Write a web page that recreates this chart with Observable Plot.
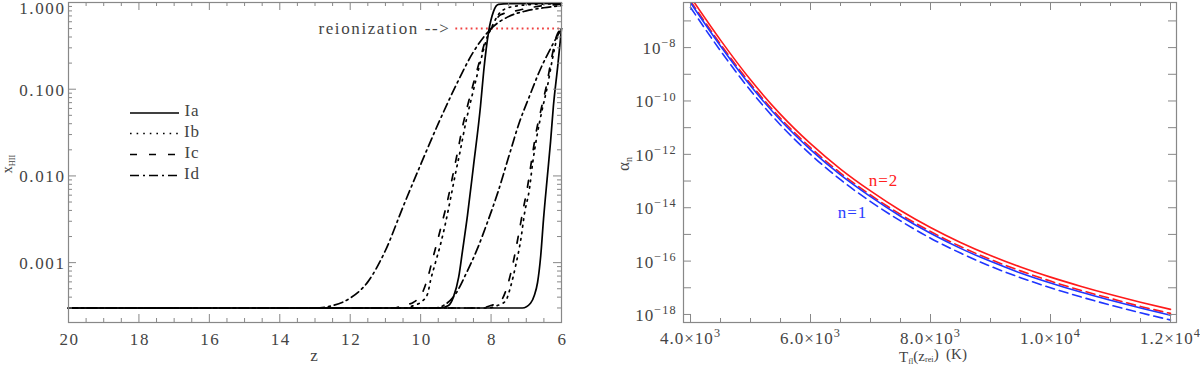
<!DOCTYPE html>
<html><head><meta charset="utf-8">
<script src="https://cdn.jsdelivr.net/npm/d3@7"></script>
<script src="https://cdn.jsdelivr.net/npm/@observablehq/plot@0.6"></script>
<style>
body{margin:0;background:#fff;}
#wrap{display:flex;width:1200px;height:367px;overflow:hidden;}
#wrap svg{flex:none;}
</style></head><body><div id="wrap"></div>
<script>
// ---------------- Left panel data: x_HII vs z ----------------
const zIaA = [20, 9.45, 9.21, 9.07, 8.92, 8.81, 8.67, 8.50, 8.30, 8.21, 8.07, 7.93, 7.79, 7.50, 6.0];
const xIaA = [3.0e-4, 3.0e-4, 3.2e-4, 4.0e-4, 6.8e-4, 1.38e-3, 3.5e-3, 1.3e-2, 6.4e-2, 0.16, 0.46, 0.79, 0.95, 0.97, 0.975];
const zIbA = [20, 10.45, 10.20, 9.95, 9.80, 9.72, 9.58, 9.43, 9.29, 9.15, 9.01, 8.87, 8.72, 8.58, 8.41, 8.24, 8.10, 8.01, 7.81, 7.59, 7.36, 7.0, 6.5, 6.0];
const xIbA = [3.0e-4, 3.0e-4, 3.2e-4, 3.6e-4, 4.4e-4, 6.2e-4, 1.0e-3, 1.66e-3, 2.9e-3, 5.5e-3, 1.07e-2, 2.0e-2, 4.1e-2, 7.2e-2, 0.138, 0.26, 0.41, 0.49, 0.71, 0.85, 0.90, 0.94, 0.96, 0.97];
const zIcA = [20, 10.75, 10.51, 10.20, 9.92, 9.78, 9.66, 9.52, 9.38, 9.24, 9.09, 8.95, 8.81, 8.67, 8.50, 8.30, 8.13, 8.01, 7.73, 7.30, 6.96, 6.5, 6.0];
const xIcA = [3.0e-4, 3.0e-4, 3.2e-4, 3.5e-4, 4.8e-4, 7.1e-4, 1.1e-3, 1.8e-3, 3.0e-3, 5.1e-3, 1.0e-2, 1.9e-2, 3.7e-2, 6.4e-2, 0.117, 0.23, 0.40, 0.49, 0.72, 0.80, 0.86, 0.92, 0.95];
const zIdA = [20, 13.0, 12.5, 12.0, 11.5, 11.0, 10.5, 10.0, 9.5, 9.0, 8.5, 8.0, 7.5, 7.0, 6.5, 6.0];
const xIdA = [3.0e-4, 3.0e-4, 3.2e-4, 3.9e-4, 6.0e-4, 1.38e-3, 4.4e-3, 1.35e-2, 4.0e-2, 0.11, 0.27, 0.50, 0.69, 0.80, 0.87, 0.92];

const zIaB = [20, 7.11, 6.88, 6.77, 6.68, 6.59, 6.51, 6.40, 6.31, 6.23, 6.11, 6.0];
const xIaB = [3.0e-4, 3.0e-4, 3.4e-4, 4.2e-4, 5.9e-4, 1.2e-3, 3.2e-3, 1.0e-2, 2.5e-2, 6.4e-2, 0.18, 0.50];
const zIbB = [20, 8.10, 7.82, 7.59, 7.45, 7.30, 7.16, 7.05, 6.91, 6.82, 6.71, 6.57, 6.40, 6.26, 6.11, 6.0];
const xIbB = [3.0e-4, 3.0e-4, 3.2e-4, 3.6e-4, 5.2e-4, 9.3e-4, 1.8e-3, 3.7e-3, 7.1e-3, 1.4e-2, 2.7e-2, 5.3e-2, 0.108, 0.22, 0.41, 0.49];
const zIcB = [20, 8.30, 8.01, 7.73, 7.53, 7.39, 7.25, 7.11, 6.96, 6.85, 6.74, 6.59, 6.42, 6.28, 6.14, 6.0];
const xIcB = [3.0e-4, 3.0e-4, 3.2e-4, 3.6e-4, 5.5e-4, 9.3e-4, 1.8e-3, 3.7e-3, 7.7e-3, 1.5e-2, 2.9e-2, 5.6e-2, 0.114, 0.23, 0.41, 0.50];
const zIdB = [20, 9.6, 9.3, 9.0, 8.7, 8.4, 8.1, 7.8, 7.5, 7.2, 6.9, 6.6, 6.3, 6.0];
const xIdB = [3.0e-4, 3.0e-4, 3.3e-4, 4.4e-4, 7.6e-4, 1.41e-3, 2.95e-3, 6.6e-3, 1.66e-2, 4.1e-2, 8.5e-2, 0.17, 0.30, 0.50];

const legendNames = ["Ia", "Ib", "Ic", "Id"];
const zTicks = [20, 18, 16, 14, 12, 10, 8, 6];
const xhiiTicks = [0.001, 0.01, 0.1, 1];
const reionLevel = 0.5;
const reionRange = [9.0, 6.0];
const reionLabel = "reionization -->";
const reionLabelZ = 9.24;

// ---------------- Right panel data: alpha_n vs T ----------------
const Tgrid = [4000, 4500, 5000, 5500, 6000, 6500, 7000, 7500, 8000, 8500, 9000, 9500, 10000, 10500, 11000, 11500, 12000];
const alphaN2Solid  = [7.9e-7, 1.91e-8, 6.2e-10, 3.16e-11, 2.51e-12, 2.82e-13, 4.27e-14, 7.9e-15, 1.82e-15, 5.0e-16, 1.62e-16, 6.0e-17, 2.51e-17, 1.15e-17, 5.6e-18, 2.88e-18, 1.55e-18];
const alphaN2Dashed = [5.6e-7, 1.35e-8, 4.4e-10, 2.24e-11, 1.78e-12, 2.0e-13, 3.0e-14, 5.6e-15, 1.29e-15, 3.5e-16, 1.15e-16, 4.3e-17, 1.78e-17, 8.1e-18, 4.0e-18, 2.0e-18, 1.10e-18];
const alphaN1Solid  = [4.8e-7, 1.15e-8, 3.7e-10, 1.9e-11, 1.51e-12, 1.70e-13, 2.6e-14, 4.8e-15, 1.10e-15, 3.0e-16, 9.8e-17, 3.6e-17, 1.51e-17, 6.9e-18, 3.4e-18, 1.74e-18, 9.3e-19];
const alphaN1Dashed = [3.2e-7, 7.6e-9, 2.46e-10, 1.26e-11, 1.0e-12, 1.12e-13, 1.7e-14, 3.2e-15, 7.2e-16, 2.0e-16, 6.4e-17, 2.4e-17, 1.0e-17, 4.6e-18, 2.24e-18, 1.15e-18, 6.2e-19];
const tTicks = [4000, 6000, 8000, 10000, 12000];
const alphaLabelTicks = [1e-18, 1e-16, 1e-14, 1e-12, 1e-10, 1e-8];
const alphaTicks = [1e-18, 1e-17, 1e-16, 1e-15, 1e-14, 1e-13, 1e-12, 1e-11, 1e-10, 1e-9, 1e-8, 1e-7];
const nLabels = [{T: 7217, a: 1.05e-13, text: "n=2", color: "#ff2020"}, {T: 6700, a: 6.6e-15, text: "n=1", color: "#2a3cff"}];

// ---------------- helpers ----------------
const FONT = "'Liberation Serif', 'Times New Roman', serif";
const TXT = "#444", FRAME = "#888";
const RED = "#ff1a1a", BLUE = "#1f36ff";
const W = 600, H = 367, MT = 2, MB = 45;
const innerH = H - MT - MB;
const dashes = {Ia: null, Ib: "1.6,5", Ic: "7,12", Id: "9,4,2,4"};

function frameTicks(innerW, xMaj, xMin, yMaj, yMin, majLen, minLen) {
  const s = {stroke: FRAME, strokeWidth: 1};
  return [
    Plot.ruleX(xMaj, {...s, insetTop: innerH - majLen}),
    Plot.ruleX(xMaj, {...s, insetBottom: innerH - majLen}),
    Plot.ruleX(xMin, {...s, insetTop: innerH - minLen}),
    Plot.ruleX(xMin, {...s, insetBottom: innerH - minLen}),
    Plot.ruleY(yMaj, {...s, insetRight: innerW - majLen}),
    Plot.ruleY(yMaj, {...s, insetLeft: innerW - majLen}),
    Plot.ruleY(yMin, {...s, insetRight: innerW - minLen}),
    Plot.ruleY(yMin, {...s, insetLeft: innerW - minLen})
  ];
}
function supify(svg) {
  d3.select(svg).selectAll("text").each(function () {
    const t = this.textContent;
    if (!t.includes("^")) return;
    const [base, exp] = t.split("^");
    const sel = d3.select(this); sel.text(null);
    sel.append("tspan").text(base);
    sel.append("tspan").attr("dy", "-0.55em").attr("font-size", "0.72em").text(exp);
  });
}
const styleStr = `font-family:${FONT};font-size:17px;color:${TXT};letter-spacing:1.6px;background:white;overflow:visible;`;

// ---------------- Left plot ----------------
const leftCurves = [
  ["IaA", "Ia", zIaA, xIaA], ["IbA", "Ib", zIbA, xIbA], ["IcA", "Ic", zIcA, xIcA], ["IdA", "Id", zIdA, xIdA],
  ["IaB", "Ia", zIaB, xIaB], ["IbB", "Ib", zIbB, xIbB], ["IcB", "Ic", zIcB, xIcB], ["IdB", "Id", zIdB, xIdB]
];
const leftRows = leftCurves.flatMap(([name, style, zs, xs]) => zs.map((z, i) => ({name, style, z, v: xs[i]})));
const zMinor = d3.range(6, 20.001, 0.5).filter(d => !zTicks.includes(d));
const xMinor = [];
for (const dec of [1e-4, 1e-3, 1e-2, 1e-1]) for (let k = 2; k <= 9; k++) { const v = k * dec; if (v >= 2.04e-4 && v < 1) xMinor.push(v); }
const innerWL = W - 68 - 39;

const left = Plot.plot({
  width: W, height: H, marginLeft: 68, marginRight: 39, marginTop: MT, marginBottom: MB,
  style: styleStr,
  x: {domain: [20, 6], axis: null},
  y: {type: "log", domain: [2.04e-4, 1.0], axis: null},
  marks: [
    Plot.ruleY([reionLevel], {x1: reionRange[0], x2: reionRange[1], stroke: "#f04040", strokeWidth: 2, strokeDasharray: "1.8,3.3"}),
    Plot.text([reionLabel], {x: reionLabelZ, y: reionLevel, text: d => d, textAnchor: "end", fill: TXT, fontSize: 17, dx: 3, style: "letter-spacing:2.8px"}),
    ...legendNames.map(s => Plot.line(leftRows.filter(d => d.style === s), {
      x: "z", y: "v", z: "name", stroke: "black", strokeWidth: 1.7, curve: "monotone-x",
      strokeDasharray: dashes[s] ?? undefined
    })),
    ...frameTicks(innerWL, zTicks, zMinor, xhiiTicks, xMinor, 8, 4),
    Plot.axisX({ticks: zTicks, tickSize: 0, tickPadding: 10, tickFormat: d => String(d), label: null, fill: TXT, dx: 1}),
    Plot.axisY({ticks: xhiiTicks, tickSize: 0, tickPadding: 3, tickFormat: d3.format(".3f"), label: null, fill: TXT, dy: 1}),
    Plot.frame({stroke: FRAME, strokeWidth: 1.2})
  ]
});

// ---------------- Right plot ----------------
const rightSeries = [
  ["n2s", alphaN2Solid, RED, null], ["n2d", alphaN2Dashed, RED, "9,5"],
  ["n1s", alphaN1Solid, BLUE, null], ["n1d", alphaN1Dashed, BLUE, "9,5"]
];
const tMinor = d3.range(4000, 12001, 500).filter(d => !tTicks.includes(d));
const innerWR = W - 83 - 24;
const fmtT = d => { const e = Math.floor(Math.log10(d)); return (d / 10 ** e).toFixed(1) + "\u00d710^" + e; };
const fmtA = d => "10^\u2212" + Math.round(-Math.log10(d));

const right = Plot.plot({
  width: W, height: H, marginLeft: 83, marginRight: 24, marginTop: MT, marginBottom: MB,
  style: styleStr.replace("letter-spacing:1.6px", "letter-spacing:1px"),
  x: {domain: [3883, 12100], axis: null},
  y: {type: "log", domain: [5.0e-19, 4.9e-7], axis: null},
  marks: [
    ...rightSeries.map(([name, vals, color, dash]) => Plot.line(Tgrid.map((T, i) => ({T, a: vals[i]})), {
      x: "T", y: "a", stroke: color, strokeWidth: 1.6, curve: "monotone-x", clip: true,
      strokeDasharray: dash ?? undefined
    })),
    Plot.text(nLabels, {x: "T", y: "a", text: "text", fill: "color", fontSize: 17, textAnchor: "middle", style: "letter-spacing:1.5px"}),
    ...frameTicks(innerWR, tTicks, tMinor, alphaTicks, [], 8, 4),
    Plot.axisX({ticks: tTicks, tickSize: 0, tickPadding: 9, tickFormat: fmtT, label: null, fill: TXT}),
    Plot.axisY({ticks: alphaLabelTicks, tickSize: 0, tickPadding: 7, tickFormat: fmtA, label: null, fill: TXT, dy: 1}),
    Plot.frame({stroke: FRAME, strokeWidth: 1.2})
  ]
});

const wrap = document.getElementById("wrap");
wrap.appendChild(left);
wrap.appendChild(right);
supify(right);

// shift the top "1.000" label down so it fits, as in the reference
d3.select(left).selectAll("text").filter(function () { return this.textContent === "1.000"; })
  .each(function () { const t = this.getAttribute("transform"); this.setAttribute("transform", (t ? t + " " : "") + "translate(0,5)"); });

// ---------------- axis titles and legend (annotation text) ----------------
const L = d3.select(left), R = d3.select(right);
const tf = (sel, ls = "0px") => sel.attr("fill", TXT).style("font-family", FONT).style("letter-spacing", ls);

tf(L.append("text")).attr("x", 314).attr("y", 361).attr("text-anchor", "middle").attr("font-size", 17).text("z");
const yl = tf(L.append("text")).attr("transform", "translate(12,164) rotate(-90)").attr("text-anchor", "middle").attr("font-size", 14);
yl.append("tspan").text("x");
yl.append("tspan").attr("dy", "0.3em").attr("font-size", "0.6em").text("HII");

const legendY = [113, 133.5, 154.5, 175.5];
legendNames.forEach((name, i) => {
  L.append("line").attr("x1", 130).attr("x2", 179).attr("y1", legendY[i]).attr("y2", legendY[i])
    .attr("stroke", "black").attr("stroke-width", 1.7).attr("stroke-dasharray", dashes[name]);
  tf(L.append("text"), "1px").attr("x", 192).attr("y", legendY[i] + 3).attr("font-size", 17).text(name);
});

const rx = tf(R.append("text")).attr("x", 333).attr("y", 362).attr("text-anchor", "middle").attr("font-size", 15);
rx.append("tspan").text("T");
rx.append("tspan").attr("dy", "0.2em").attr("font-size", "0.55em").text("fl");
rx.append("tspan").attr("dy", "-0.2em").text("(z");
rx.append("tspan").attr("dy", "0.2em").attr("font-size", "0.55em").text("rei");
rx.append("tspan").attr("dy", "-0.2em").text(")\u2002(K)");

const ryl = tf(R.append("text")).attr("transform", "translate(29,164) rotate(-90)").attr("text-anchor", "middle").attr("font-size", 17);
ryl.append("tspan").text("\u03b1");
ryl.append("tspan").attr("dy", "0.3em").attr("font-size", "0.6em").text("n");
</script></body></html>
